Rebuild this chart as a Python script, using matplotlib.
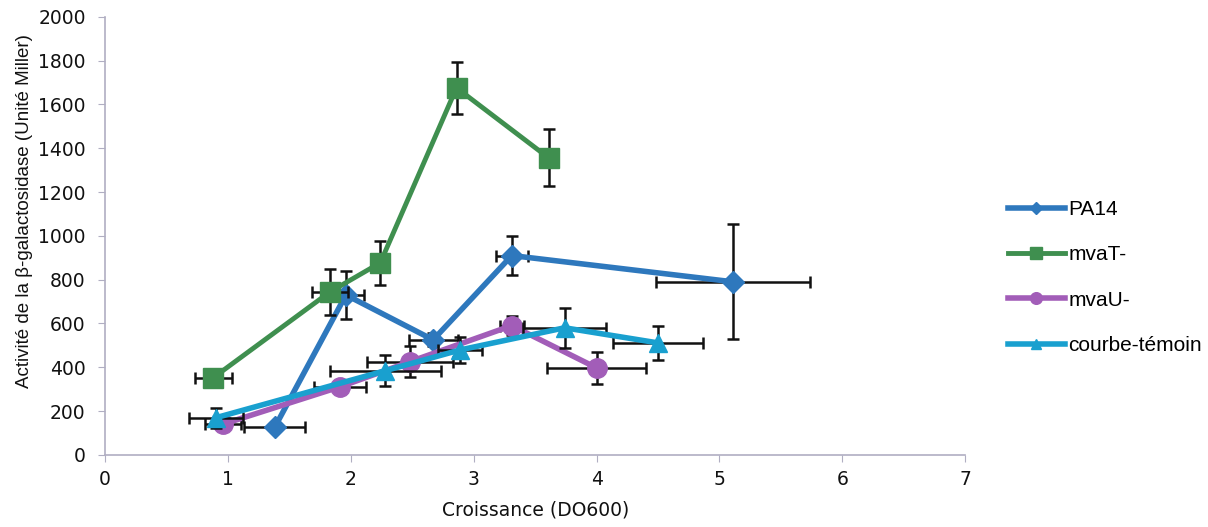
import matplotlib
matplotlib.use("Agg")
import matplotlib.pyplot as plt

plt.rcParams['font.family'] = ['DejaVu Sans']

# PA14
pa14_x = [1.38, 1.96, 2.67, 3.31, 5.11]
pa14_y = [125, 730, 525, 910, 790]
pa14_xerr = [0.25, 0.15, 0.20, 0.13, 0.63]
pa14_yerr = [15, 110, 30, 90, 262]

# mvaT-
mvat_x = [0.88, 1.83, 2.24, 2.86, 3.61]
mvat_y = [352, 744, 877, 1676, 1356]
mvat_xerr = [0.15, 0.15, 0.05, 0.0, 0.0]
mvat_yerr = [30, 105, 100, 120, 130]

# mvaU-
mvau_x = [0.96, 1.91, 2.48, 3.31, 4.00]
mvau_y = [140, 310, 425, 590, 397]
mvau_xerr = [0.15, 0.21, 0.35, 0.10, 0.40]
mvau_yerr = [20, 20, 70, 45, 73]

# courbe-témoin
temoin_x = [0.90, 2.28, 2.89, 3.74, 4.50]
temoin_y = [169, 384, 479, 580, 511]
temoin_xerr = [0.22, 0.45, 0.18, 0.34, 0.37]
temoin_yerr = [45, 70, 60, 92, 78]

series = [
    ("PA14", pa14_x, pa14_y, pa14_xerr, pa14_yerr, '#2e78bd', 'D', 11, 4.0),
    ("mvaT-", mvat_x, mvat_y, mvat_xerr, mvat_yerr, '#3f8f4f', 's', 14, 3.5),
    ("mvaU-", mvau_x, mvau_y, mvau_xerr, mvau_yerr, '#a25db8', 'o', 14, 4.0),
    ("courbe-témoin", temoin_x, temoin_y, temoin_xerr, temoin_yerr, '#19a0cf', '^', 13, 4.0),
]

fig = plt.figure(figsize=(12.08, 5.27), dpi=100)
ax = fig.add_axes([0.087, 0.137, 0.712, 0.831])

for i, (name, x, y, xe, ye, col, mk, ms, lw) in enumerate(series):
    ax.errorbar(x, y, xerr=xe, yerr=ye, fmt='none', ecolor='#111111',
                elinewidth=1.8, capsize=4.5, capthick=1.8, zorder=2 + 2 * i)
    ax.plot(x, y, color=col, lw=lw, marker=mk, markersize=ms,
            markeredgecolor=col, label=name, zorder=3 + 2 * i)

ax.set_xlim(0, 7)
ax.set_ylim(0, 2000)
ax.set_xticks(range(0, 8))
ax.set_yticks(range(0, 2001, 200))

for s in ['top', 'right']:
    ax.spines[s].set_visible(False)
for s in ['left', 'bottom']:
    ax.spines[s].set_color('#b0aec2')
    ax.spines[s].set_linewidth(1.2)
ax.tick_params(colors='#b0aec2', labelcolor='#111111', labelsize=13.5, length=5)
ax.tick_params(axis='y', pad=9)
ax.tick_params(axis='x', pad=6)

ax.set_xlabel("Croissance (DO600)", fontsize=13.5, color='#111111', labelpad=8)
ax.set_ylabel("Activité de la β-galactosidase (Unité Miller)", fontsize=13.5,
              color='#111111', family=['Liberation Sans', 'DejaVu Sans'])
ax.yaxis.set_label_coords(-0.084, 0.557)

leg = fig.legend(loc='center left', bbox_to_anchor=(0.8344, 0.4734), frameon=False,
                 prop={'family': ['Liberation Sans', 'DejaVu Sans'], 'size': 15},
                 labelspacing=1.26, handlelength=2.74, handletextpad=0.15,
                 borderpad=0, borderaxespad=0, markerscale=0.6)

fig.savefig("out.png", dpi=100)
